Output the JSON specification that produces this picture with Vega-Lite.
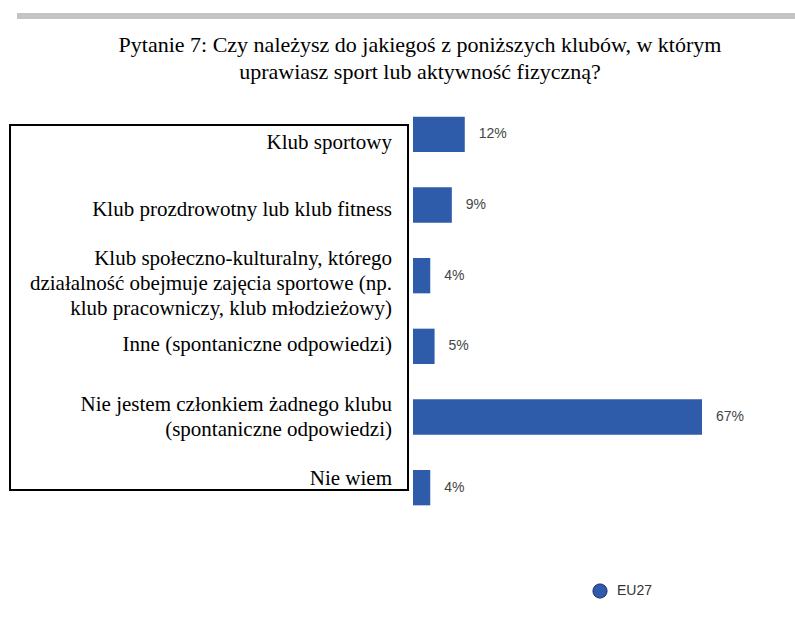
{
  "$schema": "https://vega.github.io/schema/vega-lite/v6.json",
  "autosize": {"type": "pad"},
  "padding": {"left": 9, "top": 13, "right": 0, "bottom": 0},
  "background": "white",
  "config": {"view": {"stroke": null}},
  "bounds": "flush",
  "spacing": 80,
  "datasets": {
    "odpowiedzi": [
      {"kategoria": "Klub sportowy", "wartosc": 0.12, "seria": "EU27"},
      {"kategoria": "Klub prozdrowotny lub klub fitness", "wartosc": 0.09, "seria": "EU27"},
      {"kategoria": "Klub społeczno-kulturalny, którego\ndziałalność obejmuje zajęcia sportowe (np.\nklub pracowniczy, klub młodzieżowy)", "wartosc": 0.04, "seria": "EU27"},
      {"kategoria": "Inne (spontaniczne odpowiedzi)", "wartosc": 0.05, "seria": "EU27"},
      {"kategoria": "Nie jestem członkiem żadnego klubu\n(spontaniczne odpowiedzi)", "wartosc": 0.67, "seria": "EU27"},
      {"kategoria": "Nie wiem", "wartosc": 0.04, "seria": "EU27"}
    ]
  },
  "vconcat": [
    {
      "width": 778,
      "height": 6,
      "view": {"fill": "#c4c4c4", "stroke": null},
      "data": {"values": []},
      "mark": "point",
      "encoding": {}
    },
    {
      "width": 778,
      "height": 424,
      "title": {
        "text": ["Pytanie 7: Czy należysz do jakiegoś z poniższych klubów, w którym", "uprawiasz sport lub aktywność fizyczną?"],
        "font": "Liberation Serif",
        "fontSize": 22,
        "fontWeight": "normal",
        "color": "black",
        "anchor": "middle",
        "frame": "group",
        "lineHeight": 27,
        "dx": 14,
        "offset": 15
      },
      "data": {"name": "odpowiedzi"},
      "resolve": {"scale": {"y": "independent"}},
      "layer": [
        {
          "mark": {"type": "rect", "fill": null, "fillOpacity": 0, "stroke": "black", "strokeWidth": 2, "clip": false},
          "data": {"values": [{}]},
          "encoding": {
            "x": {"datum": -0.9343, "type": "quantitative", "scale": {"domain": [-0.9181, 0.8856], "nice": false, "zero": false}, "axis": null},
            "x2": {"datum": -0.0116},
            "y": {"datum": 0.0613, "type": "quantitative", "scale": {"domain": [0, 1], "reverse": true, "nice": false}, "axis": null},
            "y2": {"datum": 0.922}
          }
        },
        {
          "encoding": {
            "y": {"field": "kategoria", "type": "nominal", "sort": null, "scale": {"paddingInner": 0.5, "paddingOuter": 0.25}, "axis": null}
          },
          "layer": [
            {
              "mark": {"type": "bar"},
              "encoding": {
                "x": {"field": "wartosc", "type": "quantitative", "scale": {"domain": [-0.9181, 0.8856], "nice": false, "zero": false}, "axis": null},
                "color": {
                  "field": "seria", "type": "nominal",
                  "scale": {"range": ["#2f5caa"]},
                  "legend": {
                    "title": null,
                    "orient": "none",
                    "legendX": 575,
                    "legendY": 570,
                    "symbolType": "circle",
                    "symbolSize": 200,
                    "symbolStrokeWidth": 1,
                    "labelFont": "Liberation Sans",
                    "labelFontSize": 14,
                    "labelColor": "#333333",
                    "labelOffset": 9,
                    "encode": {"symbols": {"update": {"fill": {"value": "#3d3fa6"}, "stroke": {"value": "#23256e"}, "fillOpacity": {"value": 1}}}}
                  }
                }
              }
            },
            {
              "mark": {"type": "text", "align": "left", "baseline": "middle", "dx": 14, "font": "Liberation Sans", "fontSize": 14, "color": "#444444"},
              "encoding": {
                "x": {"field": "wartosc", "type": "quantitative", "scale": {"domain": [-0.9181, 0.8856], "nice": false, "zero": false}, "axis": null},
                "text": {"field": "wartosc", "type": "quantitative", "format": ".0%"}
              }
            }
          ]
        },
        {
          "encoding": {
            "y": {
              "field": "kategoria", "type": "nominal",
              "scale": {
                "type": "point", "padding": 0.66,
                "domain": [
                  "Klub sportowy",
                  "Klub prozdrowotny lub klub fitness",
                  "Klub społeczno-kulturalny, którego\ndziałalność obejmuje zajęcia sportowe (np.\nklub pracowniczy, klub młodzieżowy)",
                  "Inne (spontaniczne odpowiedzi)",
                  "Nie jestem członkiem żadnego klubu\n(spontaniczne odpowiedzi)",
                  "Nie wiem"
                ]
              },
              "axis": null
            },
            "x": {"datum": 0, "type": "quantitative", "scale": {"domain": [-0.9181, 0.8856], "nice": false, "zero": false}, "axis": null},
            "text": {"field": "kategoria", "type": "nominal"}
          },
          "layer": [
            {
              "transform": [{"filter": "length(split(datum.kategoria, '\\n')) == 1"}],
              "mark": {"type": "text", "align": "right", "baseline": "middle", "dx": -21, "dy": 0, "font": "Liberation Serif", "fontSize": 21, "lineHeight": 25, "lineBreak": "\n", "color": "black"}
            },
            {
              "transform": [{"filter": "length(split(datum.kategoria, '\\n')) == 2"}],
              "mark": {"type": "text", "align": "right", "baseline": "middle", "dx": -21, "dy": -7, "font": "Liberation Serif", "fontSize": 21, "lineHeight": 25, "lineBreak": "\n", "color": "black"}
            },
            {
              "transform": [{"filter": "length(split(datum.kategoria, '\\n')) == 3"}],
              "mark": {"type": "text", "align": "right", "baseline": "middle", "dx": -21, "dy": -18, "font": "Liberation Serif", "fontSize": 21, "lineHeight": 25, "lineBreak": "\n", "color": "black"}
            }
          ]
        }
      ]
    }
  ]
}
